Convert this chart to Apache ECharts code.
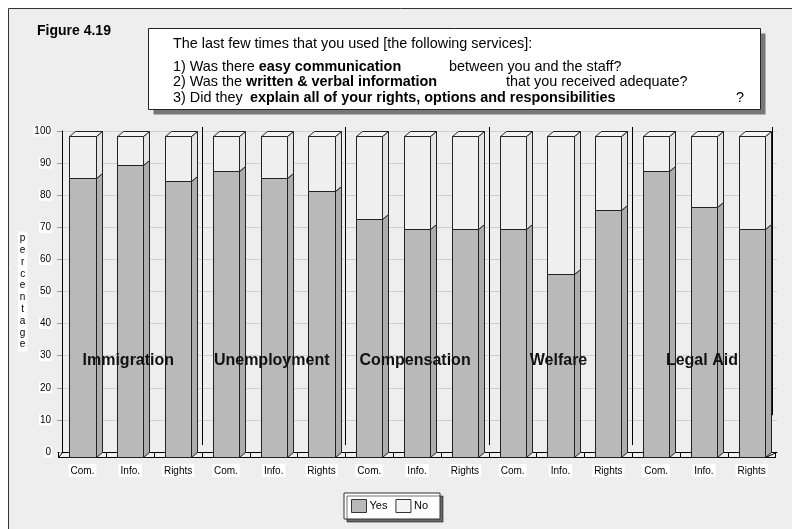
<!DOCTYPE html>
<html>
<head>
<meta charset="utf-8">
<script src="https://cdn.jsdelivr.net/npm/echarts@6/dist/echarts.min.js"></script>
<style>html,body{margin:0;padding:0;background:#fff}#c{width:792px;height:529px}</style>
</head>
<body>
<div id="c"></div>
<script>
const categories = ['Com.','Info.','Rights','Com.','Info.','Rights','Com.','Info.','Rights','Com.','Info.','Rights','Com.','Info.','Rights'];
const yesValues = [87, 91, 86, 89, 87, 83, 74, 71, 71, 71, 57, 77, 89, 78, 71];
const noValues  = [13,  9, 14, 11, 13, 17, 26, 29, 29, 29, 43, 23, 11, 22, 29];
const groupNames = ['Immigration','Unemployment','Compensation','Welfare','Legal Aid'];
const groupCenterIndex = [1, 4, 7, 10, 13];
const groupLabelLevel = [30, 30, 30, 30, 30];
const groupEndIndex = [2, 5, 8, 11, 14];
const yMin = 0, yMax = 100, yStep = 10;

const FONT = '"Liberation Sans", Arial, Helvetica, sans-serif';
const TFS = 14.4;
const DX = 6, DY = 5;
const BAR_FRAC = 0.55;

function px(v){ return Math.round(v) + 0.5; }

function barGeom(api, lo, hi){
  const i = api.value(0);
  const b = api.coord([i, lo]);
  const t = api.coord([i, hi]);
  const band = api.size([1, 0])[0];
  const w = band * BAR_FRAC;
  return { xl: px(b[0] - w/2), xr: px(b[0] + w/2), yb: px(b[1]), yt: px(t[1]) };
}

function renderYes(params, api){
  const g = barGeom(api, 0, api.value(1));
  return { type:'group', children:[
    { type:'polygon', shape:{points:[[g.xr,g.yt],[g.xr+DX,g.yt-DY],[g.xr+DX,g.yb-DY],[g.xr,g.yb]]},
      style:{fill:'#adadad', stroke:'#222', lineWidth:1} },
    { type:'rect', shape:{x:g.xl, y:g.yt, width:g.xr-g.xl, height:g.yb-g.yt},
      style:{fill:'#b9b9b9', stroke:'#222', lineWidth:1} }
  ]};
}
function renderNo(params, api){
  const lo = api.value(1), hi = lo + api.value(2);
  const g = barGeom(api, lo, hi);
  return { type:'group', children:[
    { type:'polygon', shape:{points:[[g.xr,g.yt],[g.xr+DX,g.yt-DY],[g.xr+DX,g.yb-DY],[g.xr,g.yb]]},
      style:{fill:'#e4e4e4', stroke:'#222', lineWidth:1} },
    { type:'polygon', shape:{points:[[g.xl,g.yt],[g.xl+DX,g.yt-DY],[g.xr+DX,g.yt-DY],[g.xr,g.yt]]},
      style:{fill:'#f4f4f4', stroke:'#222', lineWidth:1} },
    { type:'rect', shape:{x:g.xl, y:g.yt, width:g.xr-g.xl, height:g.yb-g.yt},
      style:{fill:'#efefef', stroke:'#222', lineWidth:1} }
  ]};
}
function renderDivider(params, api){
  const i = api.value(0);
  const band = api.size([1, 0])[0];
  const top = api.coord([i, 102.8]);
  const bot = api.coord([i, api.value(1)]);
  const last = params.dataIndex === groupEndIndex.length - 1;
  const x = px(top[0] + band/2 - (last ? 4 : 0));
  return { type:'line', shape:{x1:x, y1:top[1], x2:x, y2:bot[1]}, style:{stroke:'#000', lineWidth:1} };
}
function renderGroupLabel(params, api){
  const p = api.coord([api.value(0), api.value(1)]);
  return { type:'text', x:p[0] - 2, y:p[1], style:{ text: groupNames[params.dataIndex], fontFamily:FONT,
    fontWeight:'bold', fontSize:16, fill:'#111', align:'center', verticalAlign:'middle' } };
}
function renderFloor(params, api){
  const a = api.coord([0, 0]);
  const band = api.size([1, 0])[0];
  const xl = a[0] - band/2;
  const xr = a[0] + band*(categories.length - 0.5);
  return { type:'group', children:[
    { type:'line', shape:{x1:xl, y1:px(a[1]), x2:xl+4, y2:px(a[1])-DY}, style:{stroke:'#000', lineWidth:1} },
    { type:'line', shape:{x1:xr-10, y1:px(a[1]), x2:xr+1, y2:px(a[1])-DY}, style:{stroke:'#000', lineWidth:1} }
  ]};
}

const yesData = yesValues.map((v, i) => [i, v]);
const noData = noValues.map((v, i) => [i, yesValues[i], v]);
const dividerData = groupEndIndex.map((i, k) => [i, k === groupEndIndex.length - 1 ? 13 : 3.7]);
const labelData = groupCenterIndex.map((i, k) => [i, groupLabelLevel[k]]);

const chart = echarts.init(document.getElementById('c'), null, {renderer:'canvas'});
chart.setOption({
  backgroundColor:'#eeeeee',
  animation:false,
  textStyle:{fontFamily:FONT},
  grid:[
    {left:62, right:15, top:131, bottom:77},
    {left:58.6, right:16.4, top:136, bottom:72}
  ],
  xAxis:[
    { gridIndex:0, type:'category', data:categories, boundaryGap:true,
      axisLine:{show:true, lineStyle:{color:'#000', width:1}}, axisTick:{show:false}, axisLabel:{show:false}, splitLine:{show:false} },
    { gridIndex:1, type:'category', data:categories, boundaryGap:true,
      axisLine:{show:true, lineStyle:{color:'#000', width:1}},
      axisTick:{show:true, inside:true, length:5, lineStyle:{color:'#000'}},
      axisLabel:{color:'#000', fontSize:10, fontFamily:FONT, margin:7, backgroundColor:'#fff', padding:[2,2,1,2], interval:0},
      splitLine:{show:false} }
  ],
  yAxis:[
    { gridIndex:0, type:'value', min:yMin, max:yMax, interval:yStep,
      name:'p\ne\nr\nc\ne\nn\nt\na\ng\ne', nameLocation:'middle', nameRotate:0, nameGap:39,
      nameTextStyle:{color:'#000', fontSize:10, fontFamily:FONT, lineHeight:11.8, backgroundColor:'#fff', padding:[1,2,1,2], align:'center'},
      axisLine:{show:true, lineStyle:{color:'#000', width:1}},
      axisTick:{show:true, length:5, lineStyle:{color:'#999'}},
      axisLabel:{color:'#000', fontSize:10, fontFamily:FONT, margin:10, backgroundColor:'#fff', padding:[1,1,0,1]},
      splitLine:{show:true, lineStyle:{color:'#cfcfcf', width:1}} },
    { gridIndex:1, type:'value', min:yMin, max:yMax, interval:yStep, show:false, splitLine:{show:false} }
  ],
  legend:{
    left:344, top:493, orient:'horizontal',
    backgroundColor:'#fff', borderColor:'#333', borderWidth:1, borderRadius:0,
    padding:[6,12,6,7], itemGap:8, itemWidth:15, itemHeight:13,
    shadowColor:'rgba(0,0,0,0.55)', shadowOffsetX:3, shadowOffsetY:3, shadowBlur:0,
    textStyle:{color:'#000', fontSize:11, fontFamily:FONT, padding:[0,0,0,-2]},
    data:[
      {name:'Yes', icon:'rect', itemStyle:{color:'#b9b9b9', borderColor:'#333', borderWidth:1}},
      {name:'No', icon:'rect', itemStyle:{color:'#f4f4f4', borderColor:'#333', borderWidth:1}}
    ]
  },
  series:[
    { type:'custom', name:'floor', xAxisIndex:1, yAxisIndex:1, data:[[0,0]], renderItem:renderFloor, silent:true, z:1 },
    { type:'custom', name:'Yes', xAxisIndex:1, yAxisIndex:1, data:yesData, renderItem:renderYes,
      encode:{x:0, y:1}, itemStyle:{color:'#b9b9b9'}, z:3 },
    { type:'custom', name:'No', xAxisIndex:1, yAxisIndex:1, data:noData, renderItem:renderNo,
      encode:{x:0, y:1}, itemStyle:{color:'#f4f4f4'}, z:3 },
    { type:'custom', name:'dividers', xAxisIndex:1, yAxisIndex:1, data:dividerData, renderItem:renderDivider, silent:true, z:2 },
    { type:'custom', name:'groups', xAxisIndex:1, yAxisIndex:1, data:labelData, renderItem:renderGroupLabel, silent:true, z:5 }
  ],
  graphic:[
    { type:'rect', shape:{x:0, y:0, width:792, height:8.5}, style:{fill:'#fff'}, silent:true },
    { type:'rect', shape:{x:0, y:0, width:8, height:529}, style:{fill:'#fff'}, silent:true },
    { type:'line', shape:{x1:8.5, y1:8.5, x2:792, y2:8.5}, style:{stroke:'#333', lineWidth:1} },
    { type:'line', shape:{x1:8.5, y1:8.5, x2:8.5, y2:529}, style:{stroke:'#333', lineWidth:1} },
    { type:'text', x:37, y:31, style:{text:'Figure 4.19', fontFamily:FONT, fontWeight:'bold', fontSize:14, fill:'#000', verticalAlign:'middle'} },
    { type:'rect', shape:{x:153.5, y:33.5, width:612, height:81}, style:{fill:'#777'} },
    { type:'rect', shape:{x:148.5, y:28.5, width:612, height:81}, style:{fill:'#fff', stroke:'#222', lineWidth:1} },
    { type:'text', x:173, y:44, style:{text:'The last few times that you used [the following services]:', fontFamily:FONT, fontSize:TFS, fill:'#000', verticalAlign:'middle'} },
    { type:'text', x:173, y:67, style:{text:'1) Was there {b|easy communication}', fontFamily:FONT, fontSize:TFS, fill:'#000', verticalAlign:'middle',
      rich:{b:{fontFamily:FONT, fontSize:TFS, fontWeight:'bold', fill:'#000'}}} },
    { type:'text', x:449, y:67, style:{text:'between you and the staff?', fontFamily:FONT, fontSize:TFS, fill:'#000', verticalAlign:'middle'} },
    { type:'text', x:173, y:82, style:{text:'2) Was the {b|written & verbal information}', fontFamily:FONT, fontSize:TFS, fill:'#000', verticalAlign:'middle',
      rich:{b:{fontFamily:FONT, fontSize:TFS, fontWeight:'bold', fill:'#000'}}} },
    { type:'text', x:506, y:82, style:{text:'that you received adequate?', fontFamily:FONT, fontSize:TFS, fill:'#000', verticalAlign:'middle'} },
    { type:'text', x:173, y:98, style:{text:'3) Did they', fontFamily:FONT, fontSize:TFS, fill:'#000', verticalAlign:'middle'} },
    { type:'text', x:250, y:98, style:{text:'explain all of your rights, options and responsibilities', fontFamily:FONT, fontSize:TFS, fontWeight:'bold', fill:'#000', verticalAlign:'middle'} },
    { type:'text', x:736, y:98, style:{text:'?', fontFamily:FONT, fontSize:TFS, fill:'#000', verticalAlign:'middle'} }
  ]
});
</script>
</body>
</html>
